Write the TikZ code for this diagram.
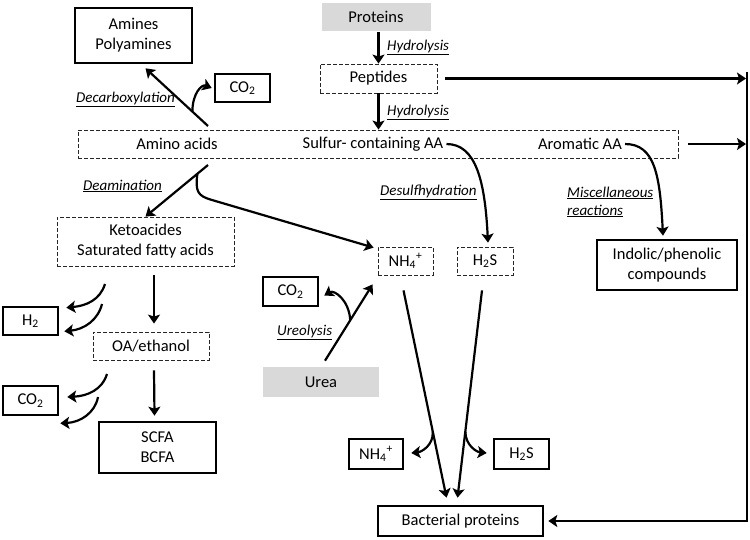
\documentclass[tikz,border=0pt]{standalone}
\usepackage{fontspec}
\setmainfont{Carlito}
\usetikzlibrary{calc,arrows.meta}
\tikzset{
	box/.style={draw, line width=2.6pt, align=center, inner sep=0pt, font=\fontsize{16.5}{20}\selectfont},
	dbox/.style={box, draw=black!85, line width=0.8pt, dash pattern=on 4pt off 2pt},
	gbox/.style={box, draw=none, fill=black!15},
	txt/.style={inner sep=0pt, font=\fontsize{16.5}{20}\selectfont},
	lbl/.style={inner sep=0pt, align=left, font=\fontsize{15}{18}\selectfont\itshape},
	arr/.style={line width=2.2pt, -{Stealth[length=9pt,width=12pt,inset=2pt]}},
}

\begin{document}
\begin{tikzpicture}[x=1pt, y=-1pt]
			%%%%% START %%%%%
			\useasboundingbox (0,0) rectangle (750,539);
			
			\node[gbox, minimum width=109, minimum height=28] (proteins) at (376,17) {Proteins};
			\node[dbox, minimum width=117, minimum height=29] (peptides) at (378.5,78.5) {Peptides};
			\node[box, minimum width=117, minimum height=55] (amines) at (133.5,35.5) {Amines\\Polyamines};
			\node[box, minimum width=55, minimum height=28] (co2a) at (242.5,88) {CO\textsubscript{2}};
			
			\node[dbox, minimum width=600, minimum height=28] (aa) at (378,144) {};
			\node[txt] (aminotxt) at (177,144) {Amino acids};
			\node[txt] (sulfurtxt) at (373,144) {Sulfur- containing AA};
			\node[txt] (aromtxt) at (580,144) {Aromatic AA};
			
			\node[dbox, minimum width=177, minimum height=49] (keto) at (145.5,241.5) {Ketoacides\\Saturated fatty acids};
			\node[dbox, minimum width=55, minimum height=28] (nh4a) at (405.5,261) {NH\textsubscript{4}\textsuperscript{+}};
			\node[dbox, minimum width=56, minimum height=28] (h2sa) at (485,261) {H\textsubscript{2}S};
			\node[box, minimum width=140, minimum height=50] (indolic) at (667,265) {Indolic/phenolic\\compounds};
			
			\node[box, minimum width=55, minimum height=29] (co2b) at (290.5,291.5) {CO\textsubscript{2}};
			\node[gbox, minimum width=116, minimum height=30] (urea) at (321,382) {Urea};
			\node[box, minimum width=55, minimum height=28] (h2) at (30.5,321) {H\textsubscript{2}};
			\node[dbox, minimum width=116, minimum height=28] (oa) at (151,346) {OA/ethanol};
			\node[box, minimum width=55, minimum height=29] (co2c) at (30.5,400.5) {CO\textsubscript{2}};
			\node[box, minimum width=117, minimum height=51] (scfa) at (157.5,447.5) {SCFA\\BCFA};
			
			\node[box, minimum width=54, minimum height=30] (nh4b) at (376,454) {NH\textsubscript{4}\textsuperscript{+}};
			\node[box, minimum width=55, minimum height=30] (h2sb) at (521.5,454) {H\textsubscript{2}S};
			\node[box, minimum width=165, minimum height=30] (bact) at (460.5,521) {Bacterial proteins};
			
			% labels
			\node[lbl, anchor=west] (hyd1) at (387,47) {\underline{Hydrolysis}};
			\node[lbl, anchor=west] (hyd2) at (387,112) {\underline{Hydrolysis}};
			\node[lbl, anchor=west] (decarb) at (76,99) {\underline{Decarboxylation}};
			\node[lbl, anchor=west] (deam) at (83,186) {\underline{Deamination}};
			\node[lbl, anchor=west] (desulf) at (380,192) {\underline{Desulfhydration}};
			\node[lbl, anchor=west] (misc) at (567,202) {\underline{Miscellaneous}\\\underline{reactions}};
			\node[lbl, anchor=west] (ureo) at (277,332) {\underline{Ureolysis}};
			
			% hydrolysis
			\draw[arr] (proteins.south -| peptides.north) -- (peptides.north);
			\draw[arr] (peptides.south) -- (peptides.south |- aa.north);
			
			% decarboxylation
			\coordinate (dcs) at (208,126);
			\coordinate (dct) at ($(amines.south)+(12,4)$);
			\coordinate (dcb) at ($(dcs)!0.25!(dct)$);
			\draw[arr] (dcs) -- (dct);
			\draw[arr] (dcb) .. controls +(0,-18) and +(-10,-4) .. ($(co2a.west)+(-2,0)$);
			
			% deamination
			\coordinate (dms) at (208,165);
			\coordinate (brs) at ($(dms)!0.17!(keto.north)$);
			\draw[arr] (dms) -- (keto.north);
			\draw[arr] (brs) .. controls (195,192) and (198,196) .. (212,200) -- ($(nh4a.north west)+(-4,1)$);
			
			% sulfur / aromatic
			\draw[arr] ($(sulfurtxt.east)+(3,0)$) .. controls +(30,0) and +(-3,-60) .. ($(h2sa.north)+(3,-4)$);
			\draw[arr] ($(aromtxt.east)+(3,0)$) .. controls +(30,0) and +(-3,-60) .. ($(indolic.north)+(-4,-3)$);
			
			% fermentation
			\draw[arr] ($(oa.north |- keto.south)+(3,9)$) -- ($(oa.north)+(3,-8)$);
			\draw[arr] ($(oa.south)+(3,10)$) -- ($(scfa.north)+(-3,-5)$);
			\coordinate (h2a) at (105,284);
			\coordinate (h2b) at (102,304);
			\coordinate (co2m) at (107,374);
			\coordinate (co2n) at (98,397);
			\draw[arr] (h2a) .. controls +(-5,16) and +(20,-2) .. ($(h2.north east)+(7,2)$);
			\draw[arr] (h2b) .. controls +(-4,16) and +(20,-2) .. ($(h2.south east)+(5,-5)$);
			\draw[arr] (co2m) .. controls +(-5,16) and +(20,-1) .. ($(co2c.east)+(8,-3.5)$);
			\draw[arr] (co2n) .. controls +(-3,16) and +(20,-1) .. ($(co2c.south east)+(1,7)$);
			
			% ureolysis
			\coordinate (us) at ($(urea.north)+(4,-5)$);
			\coordinate (ut) at ($(nh4a.south west)+(-5,9)$);
			\coordinate (ub) at ($(us)!0.53!(ut)$);
			\draw[arr] (us) -- (ut);
			\draw[arr] (ub) .. controls +(-1,-20) and +(10,-6) .. ($(co2b.east)+(5,4)$);
			
			% to bacterial proteins
			\coordinate (nds) at ($(nh4a.south)+(-2,15)$);
			\coordinate (ndt) at ($(bact.north)+(-14,-7)$);
			\coordinate (hds) at ($(h2sa.south)+(-3,15)$);
			\coordinate (hdt) at ($(bact.north)+(-3,-7)$);
			\draw[arr] (nds) -- (ndt);
			\draw[arr] (hds) -- (hdt);
			\draw[arr] ($(nds)!0.68!(ndt)$) .. controls +(1,14) and +(10,-1) .. ($(nh4b.east)+(7,-1)$);
			\draw[arr] ($(hds)!0.68!(hdt)$) .. controls +(0,14) and +(-10,-1) .. ($(h2sb.west)+(-6,-1)$);
			
			% right side
			\coordinate (rt) at (747,72);
			\coordinate (rp) at (746,78.5);
			\coordinate (ra) at (746,144);
			\draw[arr] ($(peptides.east)+(8,0)$) -- (rp);
			\draw[arr] ($(aa.east)+(10,0)$) -- (ra);
			\draw[arr, line width=2.6pt] (rt) |- ($(bact.east)+(4,0)$);
			
			%%%%% END %%%%%
\end{tikzpicture}
\end{document}
